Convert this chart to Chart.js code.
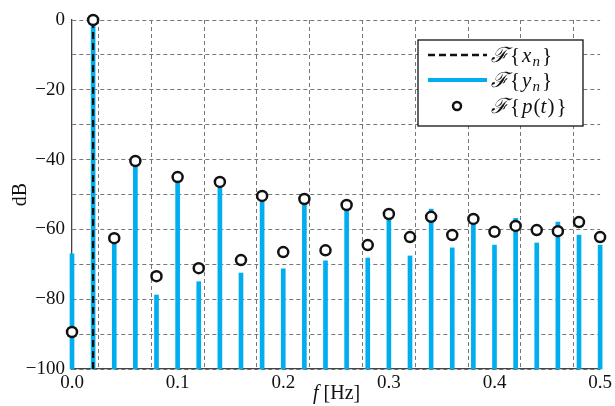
<!DOCTYPE html>
<html>
<head>
<meta charset="utf-8">
<script src="https://cdn.jsdelivr.net/npm/chart.js@4.4.1/dist/chart.umd.min.js"></script>
<style>
body { margin: 0; background: #fff; }
#wrap { width: 615px; height: 406px; }
</style>
</head>
<body>
<div id="wrap"><canvas id="spectrum"></canvas></div>
<script>
// sample frequencies [Hz]
const freqs = [0.00, 0.02, 0.04, 0.06, 0.08, 0.10, 0.12, 0.14, 0.16, 0.18, 0.20, 0.22, 0.24,
               0.26, 0.28, 0.30, 0.32, 0.34, 0.36, 0.38, 0.40, 0.42, 0.44, 0.46, 0.48, 0.50];
// F{y_n} stems (dB)
const stemDb = [-67, 0, -63.5, -40.5, -78.8, -45.5, -75, -47, -72.5, -51, -71.3, -52, -69,
                -53.6, -68.2, -54.5, -67.6, -54.2, -65.3, -57.9, -64.5, -56.8, -63.9, -57.9, -61.6, -64.5];
// F{p(t)} circles (dB)
const circleDb = [-89.4, 0, -62.5, -40.4, -73.4, -45, -71.1, -46.4, -68.8, -50.4, -66.5, -51.3, -66,
                  -53, -64.5, -55.6, -62.2, -56.4, -61.6, -57, -60.7, -59, -60.2, -60.5, -57.9, -62.2];
// F{x_n}: single line
const peakFreq = [0.02, 0.02];
const peakDb = [-100, 0];

const serif = '"Liberation Serif", "Times New Roman", serif';
const blue = '#00aeef';

Chart.defaults.font.family = serif;
Chart.defaults.font.size = 19;
Chart.defaults.color = '#111';

// draw text made of pieces with different fonts
function drawRich(ctx, x, y, parts) {
    for (const p of parts) {
        ctx.font = p.font;
        ctx.fillText(p.t, x, y + (p.dy || 0));
        x += ctx.measureText(p.t).width + (p.gap || 0);
    }
}

const roman = '21px ' + serif;
const ital = 'italic 21px ' + serif;
const sub = 'italic 15px ' + serif;
const script = 'italic 21px "DejaVu Serif", serif';

const extras = {
    id: 'extras',
    afterDraw(chart) {
        const ctx = chart.ctx;
        const area = chart.chartArea;
        ctx.save();
        ctx.fillStyle = '#111';
        ctx.textBaseline = 'alphabetic';

        // x title
        drawRich(ctx, 313, 399, [{t: 'f', font: 'italic 20px ' + serif, gap: 5}, {t: '[Hz]', font: '20px ' + serif}]);

        // y title
        ctx.translate(26, (area.top + area.bottom) / 2);
        ctx.rotate(-Math.PI / 2);
        ctx.textAlign = 'center';
        ctx.font = '20px ' + serif;
        ctx.fillText('dB', 0, 0);
        ctx.restore();

        // legend
        ctx.save();
        ctx.fillStyle = '#fff';
        ctx.fillRect(418, 40, 165, 86);
        ctx.strokeStyle = '#111';
        ctx.lineWidth = 1.3;
        ctx.strokeRect(418, 40, 165, 86);

        ctx.beginPath();
        ctx.setLineDash([7, 4]);
        ctx.lineWidth = 2.5;
        ctx.strokeStyle = '#111';
        ctx.moveTo(428, 55); ctx.lineTo(487, 55);
        ctx.stroke();
        ctx.setLineDash([]);

        ctx.beginPath();
        ctx.lineWidth = 4;
        ctx.strokeStyle = blue;
        ctx.moveTo(428, 80); ctx.lineTo(487, 80);
        ctx.stroke();

        ctx.beginPath();
        ctx.lineWidth = 2.5;
        ctx.strokeStyle = '#111';
        ctx.fillStyle = '#fff';
        ctx.arc(457, 106, 4, 0, Math.PI * 2);
        ctx.fill();
        ctx.stroke();

        ctx.fillStyle = '#111';
        ctx.textBaseline = 'alphabetic';
        const F = {t: '\u2131', font: script, gap: 2};
        const lb = {t: '{', font: roman, gap: 2};
        const rb = {t: '}', font: roman};
        drawRich(ctx, 491, 62, [F, lb, {t: 'x', font: ital, gap: 1}, {t: 'n', font: sub, dy: 4, gap: 2}, rb]);
        drawRich(ctx, 491, 87, [F, lb, {t: 'y', font: ital, gap: 1}, {t: 'n', font: sub, dy: 4, gap: 2}, rb]);
        drawRich(ctx, 491, 113, [F, lb, {t: 'p', font: ital, gap: 1}, {t: '(', font: roman},
                                 {t: 't', font: ital, gap: 1}, {t: ')', font: roman, gap: 2}, rb]);
        ctx.restore();
    }
};

new Chart(document.getElementById('spectrum'), {
    type: 'bar',
    data: {
        datasets: [
            {
                type: 'scatter',
                label: 'F{p(t)}',
                data: freqs.map((f, i) => ({x: f, y: circleDb[i]})),
                pointRadius: 5,
                pointBorderWidth: 2.5,
                pointBorderColor: '#111',
                pointBackgroundColor: '#fff',
                clip: false,
                order: 0
            },
            {
                type: 'line',
                label: 'F{x_n}',
                data: peakFreq.map((f, i) => ({x: f, y: peakDb[i]})),
                borderColor: '#111',
                borderWidth: 2.2,
                borderDash: [7, 4],
                pointRadius: 0,
                order: 1
            },
            {
                label: 'F{y_n}',
                data: freqs.map((f, i) => ({x: f, y: [-100, stemDb[i]]})),
                backgroundColor: blue,
                barThickness: 4,
                clip: false,
                order: 2
            }
        ]
    },
    options: {
        animation: false,
        responsive: true,
        maintainAspectRatio: false,
        layout: {padding: {top: 20, right: 9, left: 0, bottom: 0}},
        plugins: {legend: {display: false}, tooltip: {enabled: false}},
        scales: {
            x: {
                type: 'linear',
                min: 0,
                max: 0.5,
                offset: false,
                afterFit(scale) { scale.height = 37; },
                grid: {color: '#777', lineWidth: 1, drawTicks: false},
                border: {color: '#444', width: 1.3, dash: [4, 3]},
                ticks: {
                    stepSize: 0.05,
                    autoSkip: false,
                    maxRotation: 0,
                    padding: 3,
                    color: '#111',
                    callback: v => (Math.round(v * 100) % 10 === 0) ? v.toFixed(1) : ''
                }
            },
            y: {
                min: -100,
                max: 0,
                afterFit(scale) { scale.width = 72; },
                grid: {color: '#777', lineWidth: 1, drawTicks: false},
                border: {color: '#444', width: 1.3, dash: [4, 3]},
                ticks: {
                    stepSize: 10,
                    padding: 7,
                    color: '#111',
                    callback: v => (v % 20 === 0) ? (v < 0 ? '\u2212' + Math.abs(v) : '' + v) : ''
                }
            }
        }
    },
    plugins: [extras]
});
</script>
</body>
</html>
